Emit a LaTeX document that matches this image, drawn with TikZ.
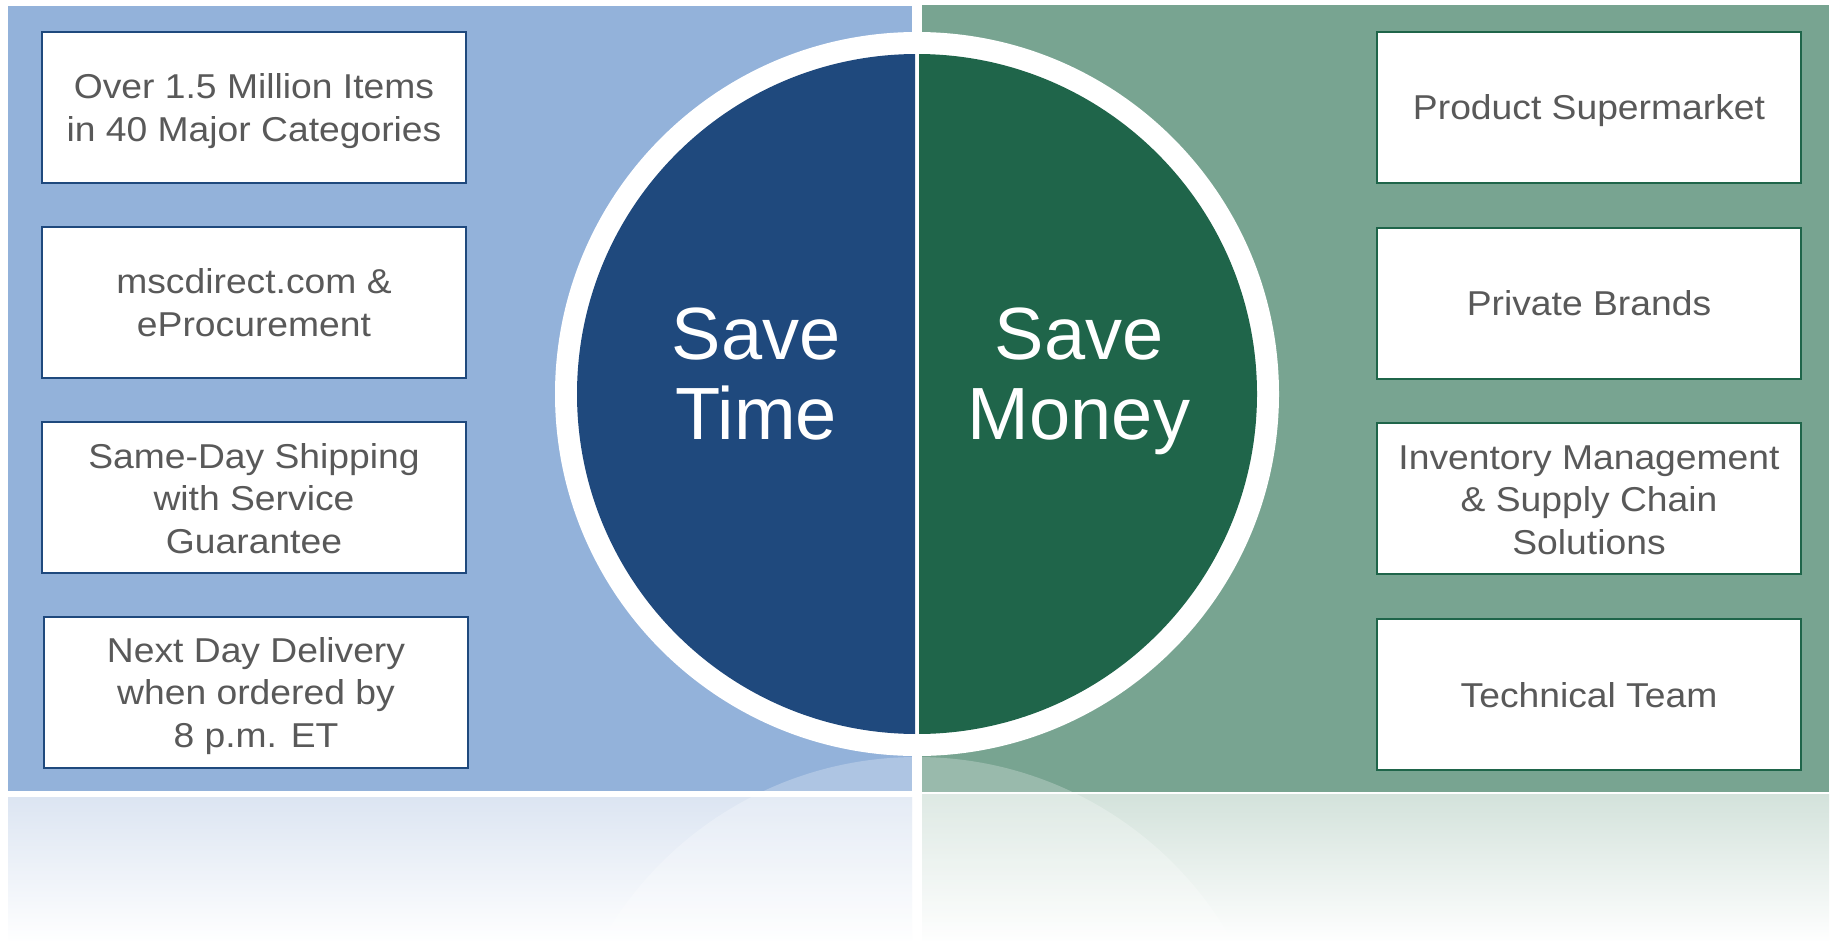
\documentclass[tikz,border=0pt]{standalone}
\usepackage{fontspec}
\setmainfont{Liberation Sans}
\newfontfamily\boxfont[FakeStretch=1.08]{Liberation Sans}

\definecolor{timepanel}{HTML}{93B2DA}
\definecolor{moneypanel}{HTML}{78A491}
\definecolor{timedark}{HTML}{1F497D}
\definecolor{moneydark}{HTML}{1F654A}
\definecolor{boxtext}{HTML}{595959}
\definecolor{timeglow}{HTML}{DCE5F2}
\definecolor{moneyglow}{HTML}{D3E2DB}

\tikzset{
  itembox/.style={fill=white, line width=1.8pt, minimum width=424pt,
    minimum height=151pt, inner sep=0pt},
  timebox/.style={itembox, draw=timedark},
  moneybox/.style={itembox, draw=moneydark},
  boxlabel/.style={inner sep=0pt, align=center, text=boxtext,
    font=\boxfont\fontsize{34.5}{42.5}\selectfont},
  bigword/.style={text=white, align=center, inner sep=0pt,
    font=\fontsize{74}{80}\selectfont}
}

\begin{document}
\begin{tikzpicture}[x=1pt,y=-1pt]
  \useasboundingbox (0,0) rectangle (1835,940);
  \fill[white] (0,0) rectangle (1835,940);

  % two coloured panels
  \fill[timepanel] (8,6) rectangle (912,791);
  \fill[moneypanel] (922,5) rectangle (1829,792);

  % mirrored panels fading out below
  \shade[top color=timeglow, bottom color=white!97!timeglow] (8,797) rectangle (912,940);
  \shade[top color=moneyglow, bottom color=white!97!moneyglow] (922,794) rectangle (1829,940);

  % faint mirrored disc under the circle
  \begin{scope}
    \clip (8,6) rectangle (912,940) (922,5) rectangle (1829,940);
    \fill[white, opacity=0.25] (917,1119) circle (362);
  \end{scope}

  % central disc: white ring, two dark halves
  \fill[white] (917,394) circle (362);
  \begin{scope}
    \clip (0,0) rectangle (915,940);
    \fill[timedark] (917,394) circle (340);
  \end{scope}
  \begin{scope}
    \clip (919,0) rectangle (1835,940);
    \fill[moneydark] (917,394) circle (340);
  \end{scope}

  \node[bigword] (savetime) at (756,374) {Save\\Time};
  \node[bigword] (savemoney) at (1079,381) {Save\\Money};

  % left column
  \node[timebox] (items)    at (254,107.5) {};
  \node[timebox] (web)      at (254,302.5) {};
  \node[timebox] (shipping) at (254,497.5) {};
  \node[timebox] (nextday)  at (256,692.5) {};
  \node[boxlabel] (itemstext) at ([yshift=-3.5pt]items.center) {Over 1.5 Million Items\\in 40 Major Categories};
  \node[boxlabel] (webtext) at (web.center) {mscdirect.com \&\\eProcurement};
  \node[boxlabel] (shippingtext) at ([yshift=-1pt]shipping.center) {Same-Day Shipping\\with Service\\Guarantee};
  \node[boxlabel] (nextdaytext) at ([yshift=-3.5pt]nextday.center) {Next Day Delivery\\when ordered by\\8 p.m. ET};

  % right column
  \node[moneybox] (supermarket) at (1589,107.5) {};
  \node[moneybox] (brands)      at (1589,303.5) {};
  \node[moneybox] (inventory)   at (1589,498.5) {};
  \node[moneybox] (technical)   at (1589,694.5) {};
  \node[boxlabel] (supermarkettext) at ([yshift=-3.5pt]supermarket.center) {Product Supermarket};
  \node[boxlabel] (brandstext) at (brands.center) {Private Brands};
  \node[boxlabel] (inventorytext) at ([yshift=-1.5pt]inventory.center) {Inventory Management\\\& Supply Chain\\Solutions};
  \node[boxlabel] (technicaltext) at ([yshift=-1pt]technical.center) {Technical Team};
\end{tikzpicture}
\end{document}
